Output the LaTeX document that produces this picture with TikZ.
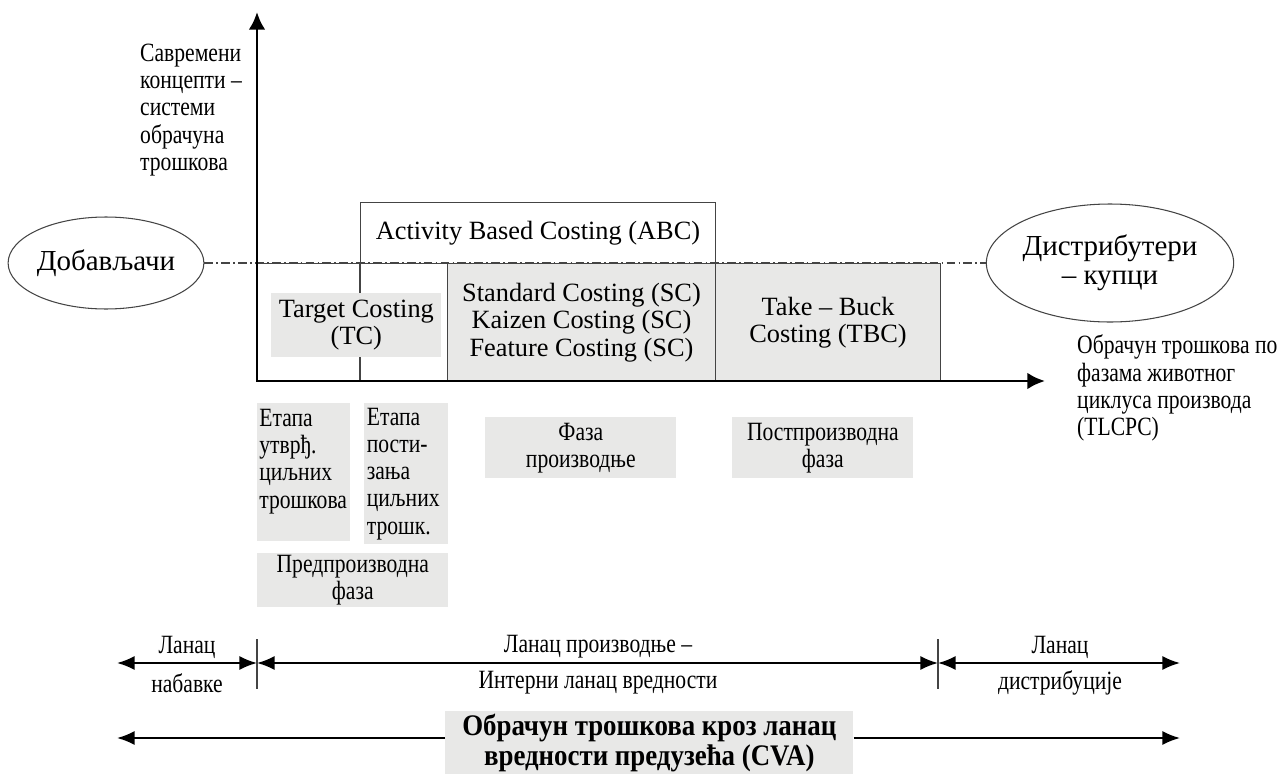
\documentclass[tikz,border=0pt]{standalone}
\usepackage{fontspec}
\setmainfont{Liberation Serif}
\newfontfamily\cyr[FakeStretch=0.82]{Liberation Serif}
\newfontfamily\cyrb[FakeStretch=0.9]{Liberation Serif}
\usetikzlibrary{arrows.meta,positioning,shapes.geometric}
\definecolor{boxgray}{HTML}{E8E8E7}
\definecolor{edge}{HTML}{444444}

\begin{document}
\begin{tikzpicture}[x=0.02cm,y=-0.02cm,>={Latex[length=10pt,width=8pt]},
  lat/.style={font=\fontsize{15}{15.5}\selectfont,align=center},
  cyrtxt/.style={font=\cyr\fontsize{15}{15.5}\selectfont,align=center},
  big/.style={font=\fontsize{16.5}{16.5}\selectfont,align=center},
  box/.style={draw=edge,line width=0.6pt,inner sep=0pt,anchor=north west},
  shade/.style={fill=boxgray,inner sep=0pt,anchor=north west},
  oval/.style={ellipse,draw=edge,line width=0.6pt,inner sep=0pt,big},
  chain/.style={line width=1.1pt,<->},
  tick/.style={draw=edge,line width=0.6pt}]
\useasboundingbox (0,0) rectangle (1278,774);

\coordinate (o) at (257,381);
\coordinate (ytop) at (257,12);
\coordinate (xend) at (1045,381);

% costing systems
\node (tc) [box,minimum width=3.8cm,minimum height=2.36cm] at (257,263) {};
\node (abc) [box,lat,minimum width=7.1cm,minimum height=1.22cm] at (360,202) {Activity Based Costing (ABC)};
\draw[tick] (abc.south west) -- (abc.south west |- o);
\node (sc) [box,fill=boxgray,lat,minimum width=5.36cm,minimum height=2.36cm] at (447,263) {Standard Costing (SC)\\Kaizen Costing (SC)\\Feature Costing (SC)};
\node (tbc) [box,fill=boxgray,lat,minimum width=4.5cm,minimum height=2.36cm] at (715,263) {Take – Buck\\Costing (TBC)};
\node (tcg) [shade,lat,minimum width=3.4cm,minimum height=1.28cm] at (271,293) {Target Costing\\(TC)};

\node (ylab) [cyrtxt,align=left,anchor=west] at (134,110) {Савремени\\концепти –\\системи\\обрачуна\\трошкова};
\node (dob) [oval,minimum width=3.84cm,minimum height=1.84cm] at (106,263) {Добављачи};
\node (dist) [oval,minimum width=4.72cm,minimum height=2.36cm] at (1110,263) {Дистрибутери\\– купци};
\draw[edge,line width=0.6pt,dash pattern=on 5pt off 1.8pt on 1pt off 1.8pt] (dob.east) -- (dist.west);
\node (tlcpc) [cyrtxt,align=left,anchor=west] at (1071,388) {Обрачун трошкова по\\фазама животног\\циклуса производа\\(TLCPC)};

\draw[line width=1.7pt,{Latex[length=10pt,width=9.5pt]}-{Latex[length=10pt,width=9.5pt]}] (ytop) -- (o) -- (xend);

% phases
\node (et1) [shade,cyrtxt,align=left,inner xsep=0.04cm,text width=1.78cm,minimum height=2.76cm] at (257,403) {Етапа\\утврђ.\\циљних\\трошкова\\~};
\node (et2) [shade,cyrtxt,align=left,inner xsep=0.05cm,text width=1.58cm,minimum height=2.82cm] at (364,403) {Етапа\\пости-\\зања\\циљних\\трошк.};
\node (pre) [shade,cyrtxt,minimum width=3.82cm,minimum height=1.08cm] at (257,553) {Предпроизводна\\фаза};
\node (prod) [shade,cyrtxt,minimum width=3.82cm,minimum height=1.22cm] at (485,417) {Фаза\\производње};
\node (post) [shade,cyrtxt,minimum width=3.62cm,minimum height=1.22cm] at (732,417) {Постпроизводна\\фаза};

% value chain
\coordinate (l0) at (117,663);
\coordinate (l1) at (257,663);
\coordinate (l2) at (938,663);
\coordinate (l3) at (1180,663);
\draw[chain] (l0) -- (l1);
\draw[chain] (l1) -- (l2);
\draw[chain] (l2) -- (l3);
\draw[tick] (l1) ++(0,-24) -- ++(0,50);
\draw[tick] (l2) ++(0,-24) -- ++(0,50);
\node (sup1) [cyrtxt] at (187,647) {Ланац};
\node (sup2) [cyrtxt] at (187,683) {набавке};
\node (int1) [cyrtxt] at (598,647) {Ланац производње –};
\node (int2) [cyrtxt] at (598,683) {Интерни ланац вредности};
\node (dis1) [cyrtxt] at (1060,647) {Ланац};
\node (dis2) [cyrtxt] at (1060,683) {дистрибуције};

\node (cva) [shade,font=\cyrb\bfseries\fontsize{17}{17}\selectfont,align=center,minimum width=8.16cm,minimum height=1.26cm] at (445,711) {Обрачун трошкова кроз ланац\\вредности предузећа (CVA)};
\coordinate (cvaL) at (117,738);
\coordinate (cvaR) at (1180,738);
\draw[line width=1.1pt,->] (cva.west |- cvaL) -- (cvaL);
\draw[line width=1.1pt,->] (cva.east |- cvaR) -- (cvaR);
\end{tikzpicture}
\end{document}
